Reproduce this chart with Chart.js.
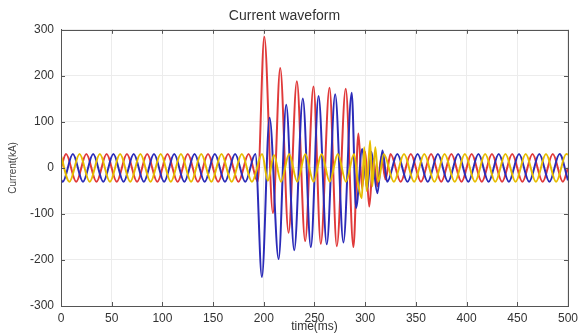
<!DOCTYPE html>
<html>
<head>
<meta charset="utf-8">
<script src="https://cdn.jsdelivr.net/npm/chart.js@4"></script>
<style>
 body { margin: 0; background: #fff; }
 #wrap { width: 583px; height: 333px; }
</style>
</head>
<body>
<div id="wrap"><canvas id="chartCanvas" width="583" height="333"></canvas></div>
<script>
// peaks, troughs and a few key points of each phase
const redTime = [0,5,15,25,35,45,55,65,75,85,95,105,115,125,135,145,155,165,175,185,194,
 200.5,209,216.2,224.4,232.6,240.8,249,256.2,264.8,272,280.8,288.4,293.3,
 297,300,304,308,312,316,320,
 325,335,345,355,365,375,385,395,405,415,425,435,445,455,465,475,485,495,500];
const redVal = [0,30,-30,30,-30,30,-30,30,-30,30,-30,30,-30,30,-30,30,-30,30,-30,30,-30,
 285,-98,217,-141,188,-159,177,-165,174,-170,172,-172,75,
 -45,35,-84,20,-40,25,-25,
 30,-30,30,-30,30,-30,30,-30,30,-30,30,-30,30,-30,30,-30,30,-30,0];

const blueTime = [0,1.7,11.7,21.7,31.7,41.7,51.7,61.7,71.7,81.7,91.7,101.7,111.7,121.7,131.7,141.7,151.7,161.7,171.7,181.7,191.7,
 198.1,205.7,214.6,222.1,230,238.5,246.4,254,262.1,270.4,278.5,286.7,
 291,297,302,306,312,317,
 321.7,331.7,341.7,351.7,361.7,371.7,381.7,391.7,401.7,411.7,421.7,431.7,441.7,451.7,461.7,471.7,481.7,491.7,500];
const blueVal = [-26,-30,30,-30,30,-30,30,-30,30,-30,30,-30,30,-30,30,-30,30,-30,30,-30,30,
 -237,109,-198,137,-179,151,-172,156,-166,160,-162,163,
 -87,41,-45,35,-55,38,
 -30,30,-30,30,-30,30,-30,30,-30,30,-30,30,-30,30,-30,30,-30,30,-27];

const yellowTime = [0,8.3,18.3,28.3,38.3,48.3,58.3,68.3,78.3,88.3,98.3,108.3,118.3,128.3,138.3,148.3,158.3,168.3,178.3,188.3,198.3,
 204,210,217,225,233,241,249,257,265,273,281,289,
 293,296.6,299,301.5,304.8,307,310,313,
 318.3,328.3,338.3,348.3,358.3,368.3,378.3,388.3,398.3,408.3,418.3,428.3,438.3,448.3,458.3,468.3,478.3,488.3,498.3,500];
const yellowVal = [26,-30,30,-30,30,-30,30,-30,30,-30,30,-30,30,-30,30,-30,30,-30,30,-30,30,
 -28,28,-30,30,-30,30,-30,30,-30,30,-30,30,
 -35,-66,45,-50,59,-40,45,-30,
 30,-30,30,-30,30,-30,30,-30,30,-30,30,-30,30,-30,30,-30,30,-30,30,29];

const xTicks = [0,50,100,150,200,250,300,350,400,450,500];
const yTicks = [-300,-200,-100,0,100,200,300];

function pts(t, v) { return t.map((x, i) => ({ x: x, y: v[i] })); }

// MATLAB style box with inward ticks
const boxPlugin = {
 id: 'box',
 afterDraw(chart) {
  const { ctx, chartArea: a, scales } = chart;
  ctx.save();
  ctx.strokeStyle = '#555';
  ctx.lineWidth = 1;
  ctx.beginPath();
  xTicks.forEach(v => {
   const px = Math.round(scales.x.getPixelForValue(v)) + 0.5;
   ctx.moveTo(px, a.bottom); ctx.lineTo(px, a.bottom - 4);
   ctx.moveTo(px, a.top); ctx.lineTo(px, a.top + 4);
  });
  yTicks.forEach(v => {
   const py = Math.round(scales.y.getPixelForValue(v)) + 0.5;
   ctx.moveTo(a.left, py); ctx.lineTo(a.left + 4, py);
   ctx.moveTo(a.right, py); ctx.lineTo(a.right - 4, py);
  });
  ctx.stroke();
  ctx.strokeRect(Math.round(a.left) + 0.5, Math.round(a.top) + 0.5,
   Math.round(a.right - a.left), Math.round(a.bottom - a.top));
  ctx.restore();
 }
};

const ctx = document.getElementById('chartCanvas').getContext('2d');
new Chart(ctx, {
 type: 'line',
 data: {
  datasets: [
   { label: 'C', data: pts(yellowTime, yellowVal), borderColor: '#e6bd00', borderWidth: 2 },
   { label: 'B', data: pts(blueTime, blueVal), borderColor: '#2b2bb8', borderWidth: 2 },
   { label: 'A', data: pts(redTime, redVal), borderColor: '#e03a3a', borderWidth: 2 }
  ]
 },
 options: {
  responsive: false,
  animation: false,
  elements: {
   point: { radius: 0 },
   line: { cubicInterpolationMode: 'monotone', fill: false }
  },
  layout: { padding: { left: 0, right: 14, top: 0, bottom: 0 } },
  plugins: {
   legend: { display: false },
   tooltip: { enabled: false },
   title: {
    display: true,
    text: 'Current waveform',
    color: '#333',
    font: { family: 'Liberation Sans, Arial, sans-serif', size: 14, weight: 'normal' },
    padding: { top: 8, bottom: 5 }
   }
  },
  scales: {
   x: {
    type: 'linear',
    min: 0, max: 500,
    afterFit: s => { s.height = 27; },
    afterBuildTicks: s => { s.ticks = xTicks.map(v => ({ value: v })); },
    ticks: { color: '#333', padding: 5, maxRotation: 0,
     font: { family: 'Liberation Sans, Arial, sans-serif', size: 12 } },
    grid: { color: '#ececec', drawTicks: false },
    border: { color: '#555' },
    title: { display: true, text: 'time(ms)', color: '#333', padding: 0,
     font: { family: 'Liberation Sans, Arial, sans-serif', size: 12, lineHeight: 1 } }
   },
   y: {
    min: -300, max: 300,
    afterFit: s => { s.width = 61; },
    afterBuildTicks: s => { s.ticks = yTicks.map(v => ({ value: v })); },
    ticks: { color: '#333', padding: 7,
     font: { family: 'Liberation Sans, Arial, sans-serif', size: 12 } },
    grid: { color: '#ececec', drawTicks: false },
    border: { color: '#555' },
    title: { display: true, text: 'Current(kA)', color: '#444', padding: { top: 7, bottom: 0 },
     font: { family: 'Liberation Sans, Arial, sans-serif', size: 10 } }
   }
  }
 },
 plugins: [boxPlugin]
});
</script>
</body>
</html>
